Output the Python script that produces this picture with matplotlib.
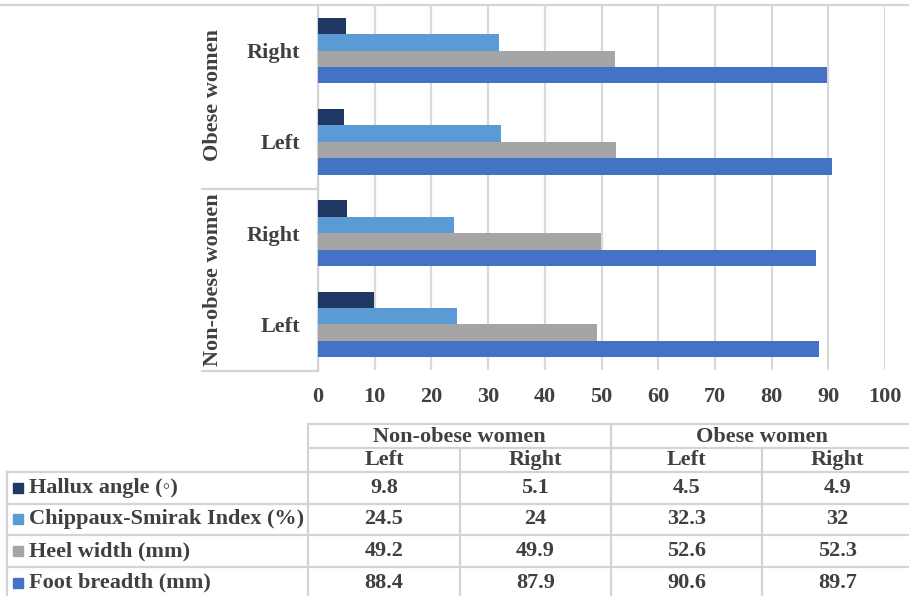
import matplotlib
matplotlib.use("Agg")
import matplotlib.pyplot as plt
from matplotlib.lines import Line2D
from matplotlib.patches import Rectangle
import numpy as np

# ---- data ----
groups = ["Non-obese women", "Obese women"]
sides = ["Left", "Right"]
series_names = ["Hallux angle (\u25e6)", "Chippaux-Smirak Index (%)", "Heel width (mm)", "Foot breadth (mm)"]
hallux = [9.8, 5.1, 4.5, 4.9]
chippaux = [24.5, 24, 32.3, 32]
heel = [49.2, 49.9, 52.6, 52.3]
foot = [88.4, 87.9, 90.6, 89.7]
xticks = [0, 10, 20, 30, 40, 50, 60, 70, 80, 90, 100]

series = [hallux, chippaux, heel, foot]
colors = ["#1F3864", "#5B9BD5", "#A5A5A5", "#4472C4"]

W, H = 909, 596
TXT = "#404040"
GRID = "#d9d9d9"
LINE = "#d4d4d4"
FONT = "Liberation Serif"
FS = 16

fig = plt.figure(figsize=(W / 100, H / 100), dpi=100)
fig.patch.set_facecolor("white")

def fx(x):
    return x / W

def fy(y):
    return 1 - y / H

def hline(y, x0, x1, color=LINE, lw=1.6):
    fig.add_artist(Line2D([fx(x0), fx(x1)], [fy(y), fy(y)], color=color, lw=lw, transform=fig.transFigure))

def vline(x, y0, y1, color=LINE, lw=1.6):
    fig.add_artist(Line2D([fx(x), fx(x)], [fy(y0), fy(y1)], color=color, lw=lw, transform=fig.transFigure))

# ---- bar chart ----
ax_l, ax_r, ax_t, ax_b = 318, 885, 5, 370
ax = fig.add_axes([fx(ax_l), fy(ax_b), (ax_r - ax_l) / W, (ax_b - ax_t) / H])
ncat = len(hallux)
pos = np.arange(ncat)
bh = 0.18
offsets = [1.5 * bh, 0.5 * bh, -0.5 * bh, -1.5 * bh]
for vals, c, off in zip(series, colors, offsets):
    ax.barh(pos + off, vals, height=bh, color=c, zorder=3)
ax.set_xlim(0, 100)
ax.set_ylim(-0.5, ncat - 0.5)
ax.set_xticks(xticks)
ax.set_xticklabels([str(t) for t in xticks])
ax.xaxis.grid(True, color=GRID, lw=1.6, zorder=0)
ax.tick_params(axis="x", length=0, pad=12, labelcolor=TXT, labelsize=FS)
for lab in ax.get_xticklabels():
    lab.set_fontfamily(FONT)
    lab.set_fontweight("bold")
ax.set_yticks(pos)
ax.set_yticklabels([s for g in groups for s in sides])
ax.tick_params(axis="y", length=0, pad=13, labelcolor=TXT, labelsize=FS)
for lab in ax.get_yticklabels():
    lab.set_fontfamily(FONT)
    lab.set_fontweight("bold")
for s in ["top", "right", "bottom"]:
    ax.spines[s].set_visible(False)
ax.spines["left"].set_color(LINE)
ax.spines["left"].set_linewidth(1.6)

# multi-level category axis lines
hline(5, 0, W)
hline(189, 202, 318)
hline(371, 202, 318)

# group labels (rotated)
fig.text(fx(213), fy(280), groups[0], rotation=90, ha="center", va="center",
         family=FONT, weight="bold", fontsize=FS, color=TXT)
fig.text(fx(213), fy(95), groups[1], rotation=90, ha="center", va="center",
         family=FONT, weight="bold", fontsize=FS, color=TXT)

# ---- data table ----
col_edges = [308, 460, 611, 762, 913]
row_lines = [472, 503.5, 535, 567, 598]
hline(424, 308, W)
hline(448, 308, W)
for y in row_lines:
    hline(y, 7, W)
vline(7, 472, 598)
vline(308, 424, 598)
vline(611, 424, 598)
vline(460, 448, 598)
vline(762, 448, 598)

fig.text(fx((308 + 611) / 2), fy(436.5), groups[0], ha="center", va="center",
         family=FONT, weight="bold", fontsize=FS, color=TXT)
fig.text(fx((611 + 913) / 2), fy(436.5), groups[1], ha="center", va="center",
         family=FONT, weight="bold", fontsize=FS, color=TXT)
for i in range(4):
    xc = (col_edges[i] + col_edges[i + 1]) / 2
    fig.text(fx(xc), fy(460), sides[i % 2], ha="center", va="center",
             family=FONT, weight="bold", fontsize=FS, color=TXT)

for r, (name, vals, c) in enumerate(zip(series_names, series, colors)):
    yc = (row_lines[r] + row_lines[r + 1]) / 2
    fig.add_artist(Rectangle((fx(13), fy(yc + 5)), 10 / W, 10 / H, color=c,
                             transform=fig.transFigure))
    fig.text(fx(29), fy(yc), name, ha="left", va="center",
             family=[FONT, "DejaVu Serif"], weight="bold", fontsize=FS, color=TXT)
    for i, v in enumerate(vals):
        xc = (col_edges[i] + col_edges[i + 1]) / 2
        fig.text(fx(xc), fy(yc), f"{v:g}", ha="center", va="center",
                 family=FONT, weight="bold", fontsize=FS, color=TXT)

fig.savefig("out.png", dpi=100, facecolor="white")
